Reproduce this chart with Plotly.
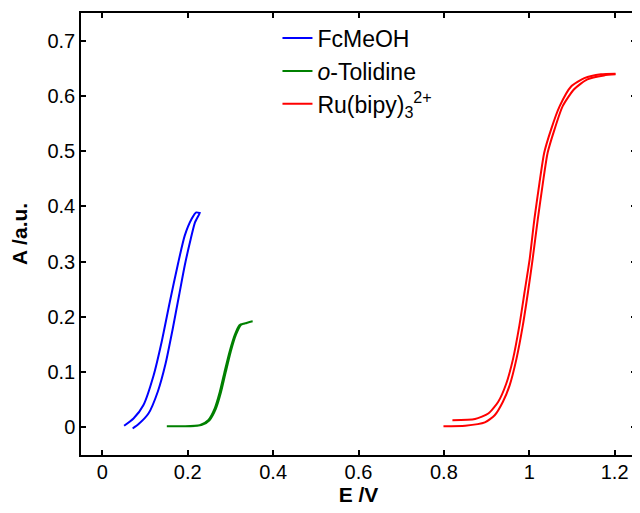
import plotly.graph_objects as go

# FcMeOH (forward and reverse scans)
fc_fwd_E = [0.051, 0.073, 0.096, 0.120, 0.139, 0.158, 0.178, 0.193, 0.209, 0.220, 0.228]
fc_fwd_A = [0.003, 0.016, 0.040, 0.094, 0.155, 0.227, 0.299, 0.347, 0.377, 0.389, 0.388]
fc_rev_E = [0.228, 0.227, 0.217, 0.207, 0.193, 0.180, 0.164, 0.148, 0.130, 0.108, 0.085, 0.071]
fc_rev_A = [0.388, 0.386, 0.371, 0.341, 0.293, 0.240, 0.175, 0.115, 0.065, 0.025, 0.006, -0.002]

# o-Tolidine
tol_fwd_E = [0.151, 0.190, 0.228, 0.248, 0.263, 0.275, 0.286, 0.298, 0.310, 0.321, 0.333, 0.352]
tol_fwd_A = [0.002, 0.002, 0.004, 0.013, 0.034, 0.064, 0.100, 0.137, 0.167, 0.185, 0.188, 0.192]
tol_rev_E = [0.352, 0.338, 0.325, 0.313, 0.301, 0.289, 0.278, 0.266, 0.251, 0.232, 0.200, 0.165]
tol_rev_A = [0.192, 0.189, 0.186, 0.168, 0.138, 0.100, 0.064, 0.034, 0.013, 0.004, 0.002, 0.002]

# Ru(bipy)3 2+
ru_a_E = [0.799, 0.850, 0.896, 0.919, 0.938, 0.954, 0.970, 0.985, 0.997, 1.008, 1.020,
          1.032, 1.043, 1.059, 1.078, 1.105, 1.136, 1.175, 1.202]
ru_a_A = [0.002, 0.003, 0.009, 0.022, 0.046, 0.076, 0.124, 0.185, 0.245, 0.305, 0.377,
          0.443, 0.497, 0.539, 0.581, 0.612, 0.630, 0.637, 0.639]
ru_b_E = [0.820, 0.873, 0.904, 0.927, 0.946, 0.962, 0.977, 0.989, 1.001, 1.012, 1.024,
          1.035, 1.051, 1.071, 1.098, 1.129, 1.168, 1.202]
ru_b_A = [0.013, 0.015, 0.025, 0.046, 0.079, 0.124, 0.185, 0.245, 0.305, 0.377, 0.443,
          0.497, 0.539, 0.581, 0.617, 0.632, 0.639, 0.640]

x_ticks = [0, 0.2, 0.4, 0.6, 0.8, 1.0, 1.2]
x_tick_text = ["0", "0.2", "0.4", "0.6", "0.8", "1", "1.2"]
y_ticks = [0, 0.1, 0.2, 0.3, 0.4, 0.5, 0.6, 0.7]
y_tick_text = ["0", "0.1", "0.2", "0.3", "0.4", "0.5", "0.6", "0.7"]

BLUE, GREEN, RED = "#0000FF", "#008000", "#FF0000"
LW = 2
FONT = "Liberation Sans, Arial, sans-serif"


def curve(color):
    return dict(color=color, width=LW, shape="spline", smoothing=0.6)


fig = go.Figure()
fig.add_trace(go.Scatter(x=fc_fwd_E + fc_rev_E, y=fc_fwd_A + fc_rev_A, mode="lines",
                         line=curve(BLUE), name="FcMeOH"))
fig.add_trace(go.Scatter(x=tol_fwd_E + tol_rev_E, y=tol_fwd_A + tol_rev_A, mode="lines",
                         line=curve(GREEN), name="<i>o</i>-Tolidine"))
fig.add_trace(go.Scatter(x=ru_a_E, y=ru_a_A, mode="lines", line=curve(RED),
                         name="Ru(bipy)<sub>3</sub><sup>2+</sup>"))
fig.add_trace(go.Scatter(x=ru_b_E, y=ru_b_A, mode="lines", line=curve(RED),
                         showlegend=False))

axis_common = dict(
    showline=True, linecolor="black", linewidth=1.5, mirror="ticks",
    ticks="inside", ticklen=5, tickwidth=1.5, tickcolor="black",
    showgrid=False, zeroline=False,
    tickfont=dict(family=FONT, size=20, color="black"),
)

# page body has an 8px default margin; figure sized so the plot box lands
# at the reference position
fig.update_layout(
    width=632, height=505,
    margin=dict(l=73, r=2, t=5, b=58),
    paper_bgcolor="white", plot_bgcolor="white",
    font=dict(family=FONT, color="black"),
    xaxis=dict(range=[-0.05, 1.25], tickvals=x_ticks, ticktext=x_tick_text,
               ticklabelstandoff=-2,
               title=dict(text="<b>E /V</b>", font=dict(size=21), standoff=2),
               **axis_common),
    yaxis=dict(range=[-0.05, 0.75], tickvals=y_ticks, ticktext=y_tick_text,
               title=dict(text="<b>A /a.u.</b>", font=dict(size=21), standoff=14),
               **axis_common),
    legend=dict(x=0.354, y=0.992, xanchor="left", yanchor="top",
                bgcolor="rgba(0,0,0,0)", font=dict(size=23),
                tracegroupgap=0, itemwidth=30),
    showlegend=True,
)

fig.write_html("out.html")
